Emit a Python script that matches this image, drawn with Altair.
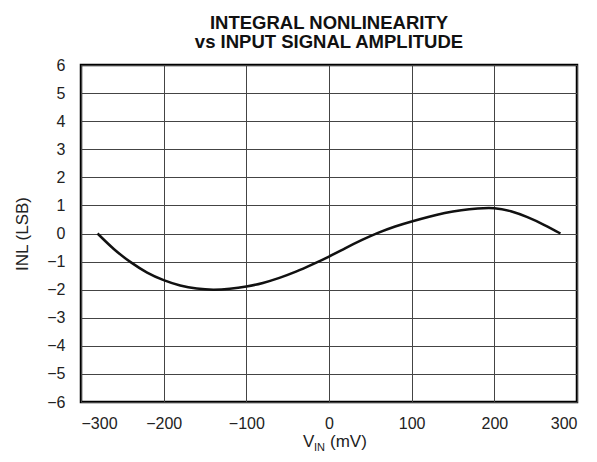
import altair as alt
import pandas as pd

title_lines = ["INTEGRAL NONLINEARITY", "vs INPUT SIGNAL AMPLITUDE"]
vin_mv = [-280, -260, -240, -220, -200, -180, -160, -140, -120, -100, -80, -60, -40, -20,
          0, 20, 40, 60, 80, 100, 120, 140, 160, 180, 200, 220, 240, 260, 280]
inl_lsb = [0.0, -0.56, -1.02, -1.39, -1.66, -1.85, -1.96, -2.0, -1.97, -1.89, -1.76, -1.58,
           -1.36, -1.10, -0.82, -0.52, -0.23, 0.03, 0.25, 0.43, 0.59, 0.73, 0.83, 0.89,
           0.90, 0.79, 0.58, 0.31, 0.0]
x_ticks = [-300, -200, -100, 0, 100, 200, 300]
y_ticks = list(range(-6, 7))
y_title = "INL (LSB)"
x_title_parts = ["V", "IN", "(mV)"]

df = pd.DataFrame({"vin": vin_mv, "inl": inl_lsb})
FONT = "Liberation Sans"
W, H = 496, 337

line = alt.Chart(df).mark_line(color="#111111", strokeWidth=2.5, interpolate="natural").encode(
    x=alt.X("vin:Q", scale=alt.Scale(domain=[-300, 300], nice=False),
            axis=alt.Axis(values=x_ticks, title=None, grid=True, gridColor="#444444",
                          gridWidth=1, ticks=False, domain=False, labelPadding=13,
                          labelFontSize=16, labelFont=FONT, labelColor="#222222")),
    y=alt.Y("inl:Q", scale=alt.Scale(domain=[-6, 6], nice=False),
            axis=alt.Axis(values=y_ticks, title=y_title, grid=True, gridColor="#444444",
                          gridWidth=1, ticks=False, domain=False, labelPadding=16,
                          labelFontSize=16, labelFont=FONT, labelColor="#222222",
                          titleFont=FONT, titleFontSize=17, titleFontWeight="normal",
                          titleColor="#222222", titlePadding=15)),
)

def txt(s, x, y, size, dy=0):
    return alt.Chart(pd.DataFrame({"t": [s]})).mark_text(
        font=FONT, fontSize=size, align="left", baseline="alphabetic", color="#222222", dy=dy
    ).encode(text="t:N", x=alt.value(x), y=alt.value(y))

xt = (txt(x_title_parts[0], 222, 382, 17)
      + txt(x_title_parts[1], 233, 382, 11, dy=4)
      + txt(x_title_parts[2], 249, 382, 17))

chart = alt.layer(line, xt).properties(
    width=W, height=H,
    title=alt.TitleParams(title_lines, font=FONT, fontSize=18.5, fontWeight="bold",
                          color="#111111", anchor="middle", lineHeight=19, offset=6),
).configure_view(stroke="#000000", strokeWidth=2.5)

chart.save("out.html", embed_options={"renderer": "svg", "actions": False})
